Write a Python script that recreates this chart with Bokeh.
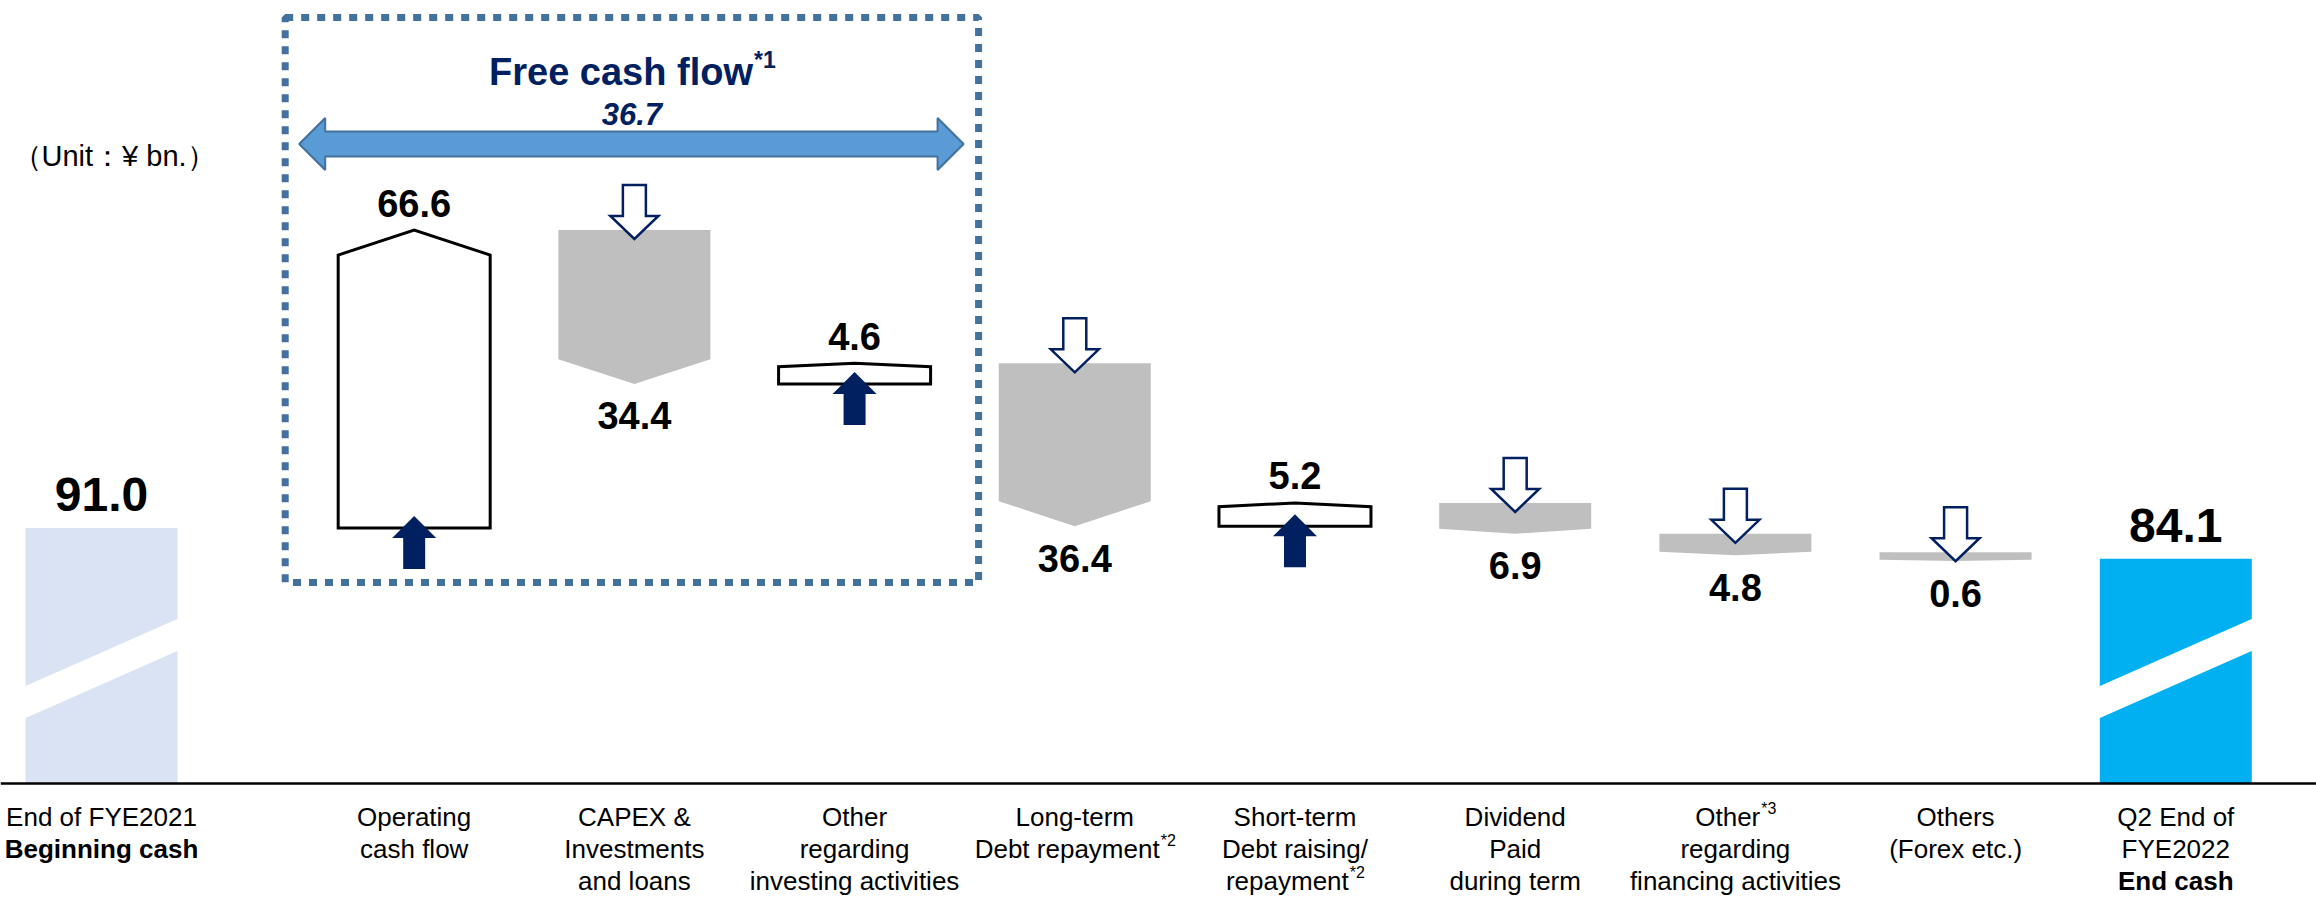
from bokeh.plotting import figure
from bokeh.models import Range1d, Span
from bokeh.embed import file_html
from bokeh.resources import INLINE
from bokeh.core.properties import value

# ---------------- data ----------------
category_lines = [
    ["End of FYE2021", "Beginning cash"],
    ["Operating", "cash flow"],
    ["CAPEX &", "Investments", "and loans"],
    ["Other", "regarding", "investing activities"],
    ["Long-term", "Debt repayment^*2"],
    ["Short-term", "Debt raising/", "repayment^*2"],
    ["Dividend", "Paid", "during term"],
    ["Other^*3", "regarding", "financing activities"],
    ["Others", "(Forex etc.)"],
    ["Q2 End of", "FYE2022", "End cash"],
]
begin_value = 91.0
flow_values = [66.6, -34.4, 4.6, -36.4, 5.2, -6.9, -4.8, -0.6]
end_value = 84.1
fcf_value = 36.7
fcf_title = "Free cash flow^*1"
fcf_members = [1, 3]          # first and last category inside the FCF box
unit_text = "（Unit：¥ bn.）"

# ---------------- styles / layout ----------------
BOLD_LINES = {(0, 1), (9, 2)}
FONT = "Liberation Sans"
NAVY = "#002060"
GRAY = "#BFBFBF"
BEGIN_COLOR = "#DAE3F3"
END_COLOR = "#00B0F0"
BOX_COLOR = "#41719C"
FCF_FILL = "#5B9BD5"

W, H = 2316, 897
PX_PER_VAL = 4.474
PX_PER_SLOT = 220.2
Y_TOP = 208.9
Y_BOT = Y_TOP - H / PX_PER_VAL
X_LEFT = -101 / PX_PER_SLOT
X_RIGHT = X_LEFT + W / PX_PER_SLOT
AXIS_FLOOR = Y_TOP - 783 / PX_PER_VAL
FIRST_GAP = 0.42
BAR_W = 152 / PX_PER_SLOT
MIN_VIS = 2.0     # minimum drawn height of a flow block (value units)


def vy(px):
    return px / PX_PER_VAL


def vx(px):
    return px / PX_PER_SLOT


def from_top(px):
    return Y_TOP - px / PX_PER_VAL


AR = {' ': 278, '!': 278, '&': 667, '(': 333, ')': 333, '*': 389, ',': 278, '-': 333, '.': 278, '/': 278,
      ':': 278, 'A': 667, 'B': 667, 'C': 722, 'D': 722, 'E': 667, 'F': 611, 'G': 778, 'H': 722, 'I': 278,
      'J': 500, 'K': 667, 'L': 556, 'M': 833, 'N': 722, 'O': 778, 'P': 667, 'Q': 778, 'R': 722, 'S': 667,
      'T': 611, 'U': 722, 'V': 667, 'W': 944, 'X': 667, 'Y': 667, 'Z': 611, 'a': 556, 'b': 556, 'c': 500,
      'd': 556, 'e': 556, 'f': 278, 'g': 556, 'h': 556, 'i': 222, 'j': 222, 'k': 500, 'l': 222, 'm': 833,
      'n': 556, 'o': 556, 'p': 556, 'q': 556, 'r': 333, 's': 500, 't': 278, 'u': 556, 'v': 500, 'w': 722,
      'x': 500, 'y': 500, 'z': 500}
AB = dict(AR)
AB.update({'a': 556, 'b': 611, 'c': 556, 'd': 611, 'e': 556, 'f': 333, 'g': 611, 'h': 611, 'i': 278,
           'j': 278, 'k': 556, 'l': 278, 'm': 889, 'n': 611, 'o': 611, 'p': 611, 'q': 611, 'r': 389,
           's': 556, 't': 333, 'u': 611, 'v': 556, 'w': 778, 'x': 556, 'y': 556, 'z': 500})


def text_w(s, size, bold=False):
    t = AB if bold else AR
    return sum(t.get(c, 556) for c in s) * size / 1000.0


p = figure(width=W, height=H, x_range=Range1d(X_LEFT, X_RIGHT), y_range=Range1d(Y_BOT, Y_TOP),
           output_backend="svg", toolbar_location=None, min_border=0)
p.axis.visible = False
p.grid.visible = False
p.outline_line_color = None
p.background_fill_color = "white"


def draw_text(x, y, s, size, bold=False, italic=False, color="black", align="center", sup_size=None):
    if "^" in s:
        main, sup = s.split("^")
    else:
        main, sup = s, ""
    style = "bold italic" if (bold and italic) else ("bold" if bold else ("italic" if italic else "normal"))
    ssize = sup_size or size * 0.62
    w_main = text_w(main, size, bold)
    w_sup = text_w(sup, ssize, bold) if sup else 0
    off = -w_sup / 2 if align == "center" else 0
    p.text(x=[x], y=[y], text=[main], x_offset=off, text_font=value(FONT),
           text_font_size="%dpx" % round(size), text_font_style=style, text_color=color,
           text_align=align, text_baseline="middle")
    if sup:
        sx = (w_main / 2 - w_sup / 2 + 1) if align == "center" else w_main + 1
        p.text(x=[x], y=[y + vy(size * 0.3)], text=[sup], x_offset=sx, text_font=value(FONT),
               text_font_size="%dpx" % round(ssize), text_font_style=style, text_color=color,
               text_align="left", text_baseline="middle")


n = len(category_lines)
xs = [0.0] + [i + FIRST_GAP for i in range(1, n)]

# ---- dotted free-cash-flow box ----
box_l = xs[fcf_members[0]] - BAR_W / 2 - vx(53)
box_r = xs[fcf_members[1]] + BAR_W / 2 + vx(48)
box_t = from_top(17)
box_b = from_top(582)
p.quad(left=[box_l], right=[box_r], top=[box_t], bottom=[box_b], fill_color=None,
       line_color=BOX_COLOR, line_width=7, line_dash="8 8")

# ---- begin / end bars ----
BREAK_Y = from_top(668)


def break_band(xc, yc):
    xl, xr = xc - BAR_W / 2 - vx(1), xc + BAR_W / 2 + vx(1)
    hd, ht = vy(34), vy(16)
    return [xl, xr, xr, xl], [yc - hd - ht, yc + hd - ht, yc + hd + ht, yc - hd + ht]


for idx, val, col in [(0, begin_value, BEGIN_COLOR), (n - 1, end_value, END_COLOR)]:
    p.quad(left=[xs[idx] - BAR_W / 2], right=[xs[idx] + BAR_W / 2], bottom=[AXIS_FLOOR], top=[val],
           fill_color=col, line_color=None)
    bx, by = break_band(xs[idx], BREAK_Y)
    p.patch(bx, by, fill_color="white", line_color=None)
    draw_text(xs[idx], val + vy(33), "%.1f" % val, 48, bold=True)

# ---- flows ----
def v_arrow(xc, tip, tail, head_len, head_hw, shaft_hw):
    s = 1 if tip > tail else -1
    base = tip - s * head_len
    return ([xc - shaft_hw, xc + shaft_hw, xc + shaft_hw, xc + head_hw, xc, xc - head_hw, xc - shaft_hw],
            [tail, tail, base, base, tip, base, base])


up_px, up_py, dn_px, dn_py = [], [], [], []
ua_x, ua_y, da_x, da_y = [], [], [], []
labels = []
level = begin_value
for k, v in enumerate(flow_values):
    i = k + 1
    xc = xs[i]
    xl, xr = xc - BAR_W / 2, xc + BAR_W / 2
    lo, hi = sorted([level, level + v])
    if hi - lo < MIN_VIS:
        mid = (hi + lo) / 2
        lo, hi = mid - MIN_VIS / 2, mid + MIN_VIS / 2
    d = min(vy(25), 0.16 * (hi - lo))
    if v > 0:
        up_px.append([xl, xr, xr, xc, xl])
        up_py.append([lo, lo, hi - d, hi, hi - d])
        ax, ay = v_arrow(xc, lo + vy(12), lo - vy(41), vy(22), vx(22), vx(11))
        ua_x.append(ax); ua_y.append(ay)
        labels.append((xc, hi + vy(27), "%.1f" % abs(v)))
    else:
        dn_px.append([xl, xr, xr, xc, xl])
        dn_py.append([hi, hi, lo + d, lo, lo + d])
        ax, ay = v_arrow(xc, hi - vy(9), hi + vy(45), vy(23), vx(24), vx(11.5))
        da_x.append(ax); da_y.append(ay)
        labels.append((xc, lo - vy(32), "%.1f" % abs(v)))
    level += v

p.patches(dn_px, dn_py, fill_color=GRAY, line_color=None)
p.patches(up_px, up_py, fill_color="white", line_color="black", line_width=3, line_join="miter")
p.patches(ua_x, ua_y, fill_color=NAVY, line_color=None)
p.patches(da_x, da_y, fill_color="white", line_color=NAVY, line_width=2.5, line_join="miter")
for (lx, ly, lt) in labels:
    draw_text(lx, ly, lt, 38, bold=True)

# ---- axis line ----
p.add_layout(Span(location=AXIS_FLOOR, dimension="width", line_color="black", line_width=2.5))

# ---- category labels ----
for i, lines in enumerate(category_lines):
    for j, line in enumerate(lines):
        draw_text(xs[i], AXIS_FLOOR - vy(33 + 32 * j), line, 26, bold=(i, j) in BOLD_LINES)

# ---- free cash flow annotation ----
cx = (box_l + box_r) / 2
draw_text(cx, from_top(71), fcf_title, 38, bold=True, color=NAVY, sup_size=23)
draw_text(cx, from_top(113), "%.1f" % fcf_value, 31, bold=True, italic=True, color=NAVY)

yc = from_top(143.5)
tl, tr = box_l + vx(14), box_r - vx(15)
hl, hh, sh = vx(26), vy(26), vy(12.5)
p.patch([tl, tl + hl, tl + hl, tr - hl, tr - hl, tr, tr - hl, tr - hl, tl + hl, tl + hl],
        [yc, yc + hh, yc + sh, yc + sh, yc + hh, yc, yc - hh, yc - sh, yc - sh, yc - hh],
        fill_color=FCF_FILL, line_color=BOX_COLOR, line_width=2)

# ---- unit ----
p.text(x=[X_LEFT + vx(12)], y=[from_top(155)], text=[unit_text], text_font=value(FONT),
       text_font_size="29px", text_align="left", text_baseline="middle", text_color="black")

open("out.html", "w").write(file_html(p, INLINE))
